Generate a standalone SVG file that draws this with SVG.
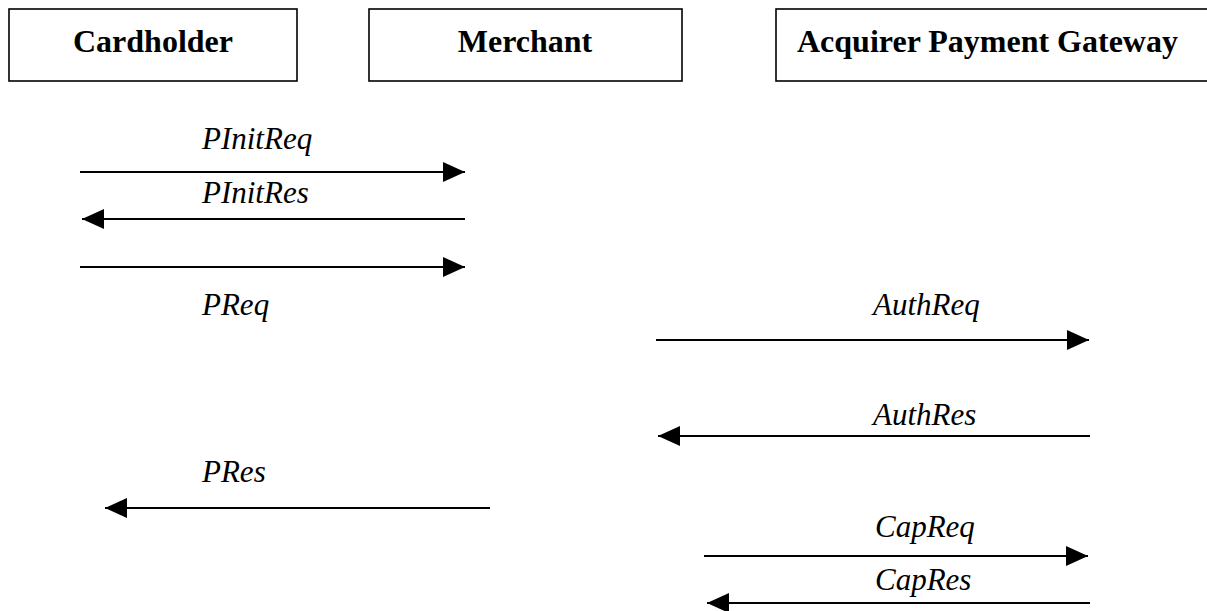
<svg xmlns="http://www.w3.org/2000/svg" width="1207" height="611" viewBox="0 0 1207 611">
  <style>
    .box { fill: #ffffff; stroke: #000000; stroke-width: 1.6; }
    .title { font-family: "Liberation Serif", "Times New Roman", serif; font-weight: bold; font-size: 32px; fill: #000000; }
    .msg { font-family: "Liberation Serif", "Times New Roman", serif; font-style: italic; font-size: 31px; fill: #000000; }
    .conn { stroke: #000000; stroke-width: 2.2; fill: none; marker-end: url(#arrow); }
  </style>
  <defs>
    <marker id="arrow" markerUnits="userSpaceOnUse" markerWidth="22" markerHeight="20" refX="22" refY="10" orient="auto">
      <path d="M0,0 L22,10 L0,20 Z" fill="#000000"/>
    </marker>
  </defs>
  <rect x="0" y="0" width="1207" height="611" fill="#ffffff"/>

  <g id="cardholder">
    <rect class="box" x="9" y="9" width="288" height="72"/>
    <text class="title" x="153" y="52" text-anchor="middle">Cardholder</text>
  </g>
  <g id="merchant">
    <rect class="box" x="369" y="9" width="313" height="72"/>
    <text class="title" x="525" y="52" text-anchor="middle">Merchant</text>
  </g>
  <g id="gateway">
    <rect class="box" x="776" y="9" width="440" height="72"/>
    <text class="title" x="797" y="52">Acquirer Payment Gateway</text>
  </g>

  <g id="connectors">
    <line class="conn" x1="80" y1="172" x2="465" y2="172"/>
    <line class="conn" x1="465" y1="219" x2="82" y2="219"/>
    <line class="conn" x1="80" y1="267" x2="465" y2="267"/>
    <line class="conn" x1="656" y1="340" x2="1089" y2="340"/>
    <line class="conn" x1="1090" y1="436" x2="658" y2="436"/>
    <line class="conn" x1="490" y1="508" x2="105" y2="508"/>
    <line class="conn" x1="704" y1="556" x2="1088" y2="556"/>
    <line class="conn" x1="1090" y1="603" x2="707" y2="603"/>
  </g>

  <g id="labels">
    <text class="msg" x="202" y="149">PInitReq</text>
    <text class="msg" x="202" y="203">PInitRes</text>
    <text class="msg" x="202" y="315">PReq</text>
    <text class="msg" x="873" y="315">AuthReq</text>
    <text class="msg" x="873" y="425">AuthRes</text>
    <text class="msg" x="202" y="482">PRes</text>
    <text class="msg" x="875" y="537">CapReq</text>
    <text class="msg" x="875" y="590">CapRes</text>
  </g>
</svg>
